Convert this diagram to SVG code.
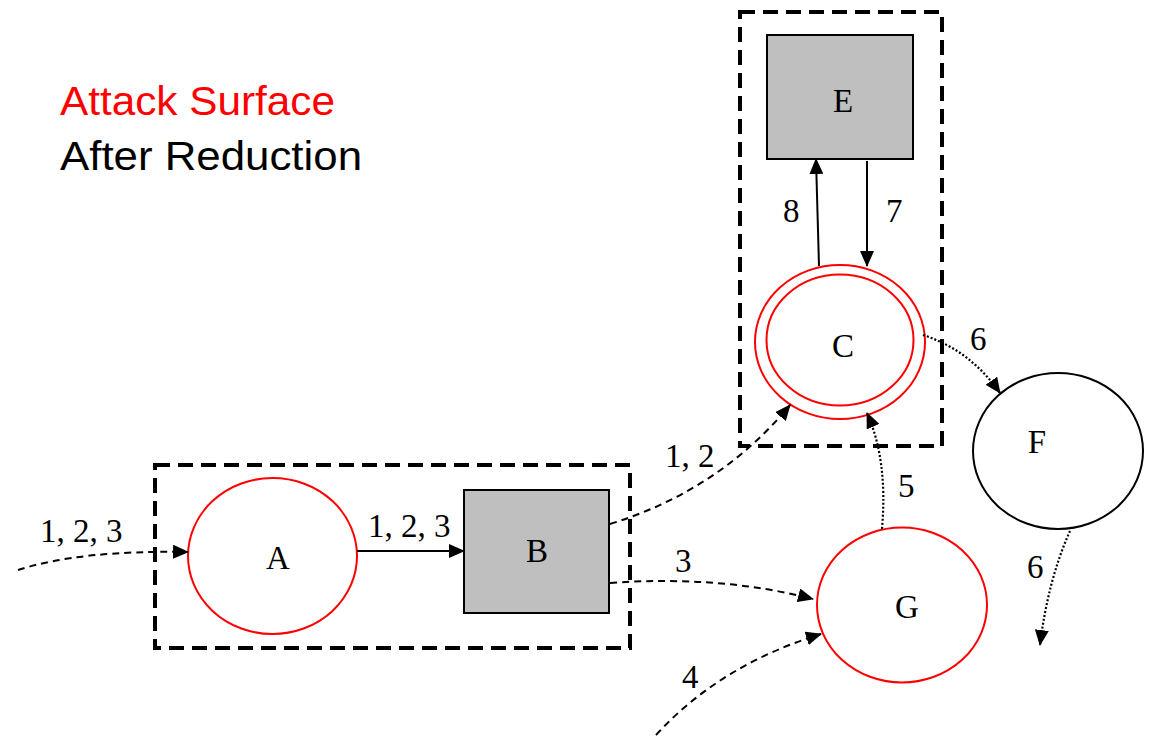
<svg xmlns="http://www.w3.org/2000/svg" width="1155" height="738" viewBox="0 0 1155 738">
  <defs>
    <marker id="arrow" markerUnits="userSpaceOnUse" markerWidth="16" markerHeight="14" viewBox="0 0 16 14" refX="15" refY="7" orient="auto">
      <path d="M0,0 L16,7 L0,14 Z" fill="#000"/>
    </marker>
    <style>
      .zone { fill: none; stroke: #000; stroke-width: 4; stroke-dasharray: 15 8; }
      .proc { fill: #fff; stroke: #ff0000; stroke-width: 2; }
      .ext { fill: #fff; stroke: #000; stroke-width: 2; }
      .store { fill: #bfbfbf; stroke: #000; stroke-width: 2; }
      .lbl { font-family: "Liberation Serif", "Times New Roman", serif; font-size: 33px; fill: #000; text-anchor: middle; }
      .num { font-family: "Liberation Serif", "Times New Roman", serif; font-size: 33px; fill: #000; }
      .solid { fill: none; stroke: #000; stroke-width: 2; marker-end: url(#arrow); }
      .dash { fill: none; stroke: #000; stroke-width: 2; stroke-dasharray: 7 5; marker-end: url(#arrow); }
      .dot { fill: none; stroke: #000; stroke-width: 2.2; stroke-dasharray: 2 2; marker-end: url(#arrow); }
      .title { font-family: "Liberation Sans", Arial, sans-serif; font-size: 40px; }
    </style>
  </defs>

  <!-- heading -->
  <text class="title" x="60" y="115" fill="#ff0000" textLength="275" lengthAdjust="spacingAndGlyphs">Attack Surface</text>
  <text class="title" x="60" y="170" fill="#000" textLength="302" lengthAdjust="spacingAndGlyphs">After Reduction</text>

  <!-- trust boundaries -->
  <g id="boundary-ab">
    <rect class="zone" x="155" y="465" width="475" height="183"/>
  </g>
  <g id="boundary-ce">
    <rect class="zone" x="740" y="12" width="202" height="434"/>
  </g>

  <!-- nodes -->
  <g id="node-A">
    <ellipse class="proc" cx="272.5" cy="556" rx="84.5" ry="78"/>
    <text class="lbl" x="278" y="569">A</text>
  </g>
  <g id="node-B">
    <rect class="store" x="464" y="490" width="145" height="123"/>
    <text class="lbl" x="537" y="562">B</text>
  </g>
  <g id="node-E">
    <rect class="store" x="767" y="35" width="146" height="124"/>
    <text class="lbl" x="843" y="112">E</text>
  </g>
  <g id="node-C">
    <ellipse class="proc" cx="840" cy="342" rx="85" ry="77"/>
    <ellipse class="proc" cx="840" cy="340" rx="73.5" ry="65.5"/>
    <text class="lbl" x="843" y="357">C</text>
  </g>
  <g id="node-G">
    <ellipse class="proc" cx="902" cy="605" rx="85" ry="77.5"/>
    <text class="lbl" x="907" y="618">G</text>
  </g>
  <g id="node-F">
    <ellipse class="ext" cx="1058" cy="451" rx="85" ry="78"/>
    <text class="lbl" x="1037" y="453">F</text>
  </g>

  <!-- data flows -->
  <g id="connectors">
    <path class="dash" d="M18,570 Q80,550 188,552"/>
    <path class="solid" d="M357,551 L464,551"/>
    <path class="dash" d="M610,524 Q720,490 790,405"/>
    <path class="dash" d="M610,583 Q720,575 813,599"/>
    <path class="dash" d="M656,735 Q720,665 821,634"/>
    <path class="dot" d="M882,529 Q888,460 867,413"/>
    <path class="solid" d="M819,266 L816,159"/>
    <path class="solid" d="M867,161 L867,266"/>
    <path class="dot" d="M923,335 Q970,350 1000,393"/>
    <path class="dot" d="M1070,531 Q1048,580 1040,645"/>
  </g>

  <!-- flow labels -->
  <g id="flow-labels">
    <text class="num" x="40" y="542">1, 2, 3</text>
    <text class="num" x="368" y="537">1, 2, 3</text>
    <text class="num" x="665" y="467">1, 2</text>
    <text class="num" x="675" y="572">3</text>
    <text class="num" x="682" y="688">4</text>
    <text class="num" x="898" y="497">5</text>
    <text class="num" x="783" y="222">8</text>
    <text class="num" x="886" y="222">7</text>
    <text class="num" x="970" y="350">6</text>
    <text class="num" x="1027" y="578">6</text>
  </g>
</svg>
